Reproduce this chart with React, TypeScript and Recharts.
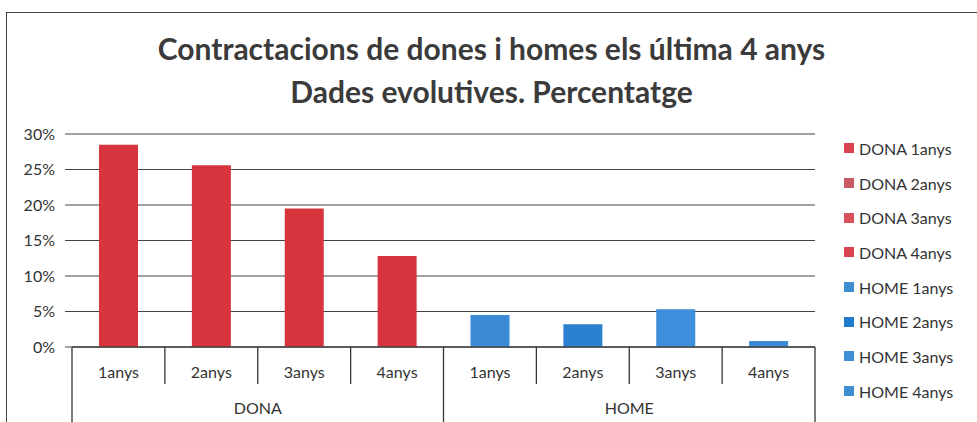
import React from 'react'
import { BarChart, Bar, XAxis, YAxis, CartesianGrid, Cell } from 'recharts'

const GROUPS = ['DONA', 'HOME']
const YEARS = ['1anys', '2anys', '3anys', '4anys']
const DONA_VALUES = [28.5, 25.6, 19.5, 12.8]
const HOME_VALUES = [4.5, 3.2, 5.3, 0.85]
const Y_TICKS = [0, 5, 10, 15, 20, 25, 30]

const BAR_COLORS = ['#d7343e', '#d7343e', '#d7343e', '#d7343e', '#3a8ad6', '#2b80d0', '#3d8edb', '#3a8ad6']
const LEGEND_COLORS = ['#d9434f', '#c65b67', '#d9505a', '#d9434f', '#3f8ed6', '#1f7acc', '#3f8ed6', '#3f8ed6']

const FONT = 'Lato, "Open Sans", sans-serif'
const INK = '#333'

const chartData = GROUPS.flatMap((group, g) =>
  YEARS.map((year, i) => ({
    key:   `${group} ${year}`,
    group,
    year,
    value: (g === 0 ? DONA_VALUES : HOME_VALUES)[i],
  })),
)

function CategoryTick(props: any) {
  const { x, y, payload, index } = props
  const half = payload?.offset ?? 46
  const row = chartData[index]
  const isGroupEnd = index % YEARS.length === YEARS.length - 1
  const isGroupMid = index % YEARS.length === 1
  return (
    <g>
      <text x={x} y={y + 31} textAnchor="middle" fontSize={16} fill={INK} fontFamily={FONT}>
        {row?.year}
      </text>
      {index === 0 && (
        <line x1={x - half} x2={x - half} y1={y} y2={422} stroke={INK} strokeWidth={1.3} />
      )}
      <line x1={x + half} x2={x + half} y1={y} y2={isGroupEnd ? 422 : y + 37} stroke={INK} strokeWidth={1.3} />
      {isGroupMid && (
        <text x={x + half} y={y + 67} textAnchor="middle" fontSize={16} fill={INK} fontFamily={FONT}>
          {row?.group}
        </text>
      )}
    </g>
  )
}

function LegendList() {
  return (
    <div style={{ position: 'absolute', left: 844, top: 131, fontFamily: FONT, fontSize: 16, color: INK }}>
      {chartData.map((d, i) => (
        <div key={d.key} style={{ height: 34.7, display: 'flex', alignItems: 'center', whiteSpace: 'nowrap' }}>
          <span style={{ width: 10, height: 10, background: LEGEND_COLORS[i], marginRight: 5, display: 'inline-block' }} />
          {d.key}
        </div>
      ))}
    </div>
  )
}

export default function App() {
  return (
    <div style={{ position: 'absolute', left: 0, top: 0, width: 977, height: 422, background: '#fff', overflow: 'hidden' }}>
      <div
        style={{
          position: 'absolute', left: 6, top: 12, width: 980, height: 420,
          borderTop: '1.5px solid #444', borderLeft: '1.5px solid #444',
        }}
      />
      <div
        style={{
          position: 'absolute', left: 6, top: 27, width: 971, textAlign: 'center',
          fontFamily: FONT, fontWeight: 700, fontSize: 30, lineHeight: '43px', color: '#3b3b3b',
        }}
      >
        Contractacions de dones i homes els última 4 anys
        <br />
        Dades evolutives. Percentatge
      </div>
      <div style={{ position: 'absolute', left: 0, top: 0 }}>
        <BarChart width={977} height={422} data={chartData} margin={{ top: 134, right: 162, bottom: 0, left: 12 }}>
          <CartesianGrid vertical={false} stroke="#444" strokeWidth={1.1} />
          <YAxis
            width={60}
            domain={[0, 30]}
            ticks={Y_TICKS}
            tickFormatter={(v: number) => `${v}%`}
            axisLine={false}
            tickLine={{ stroke: '#444' }}
            tickSize={7}
            tickMargin={10}
            tick={{ fontSize: 16, fill: INK, fontFamily: FONT }}
          />
          <XAxis
            dataKey="key"
            height={75}
            interval={0}
            axisLine={{ stroke: '#444', strokeWidth: 1.3 }}
            tickLine={false}
            tickSize={0}
            tickMargin={0}
            tick={<CategoryTick />}
          />
          <Bar dataKey="value" barSize={39} isAnimationActive={false}>
            {chartData.map((d, i) => (
              <Cell key={d.key} fill={BAR_COLORS[i]} />
            ))}
          </Bar>
        </BarChart>
      </div>
      <LegendList />
    </div>
  )
}
